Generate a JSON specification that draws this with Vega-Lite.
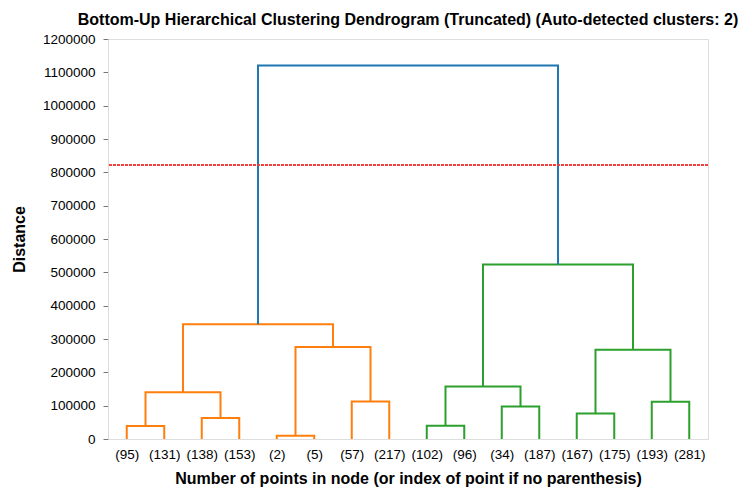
{
  "$schema": "https://vega.github.io/schema/vega-lite/v6.json",
  "autosize": {"type": "none"},
  "width": 600,
  "height": 400,
  "padding": {"left": 108, "top": 39, "right": 43, "bottom": 62},
  "config": {
    "font": "Liberation Sans",
    "view": {"stroke": "#dddddd", "strokeWidth": 1},
    "title": {"fontSize": 16, "fontWeight": "bold", "color": "#000000", "anchor": "middle", "offset": 4}
  },
  "title": "Bottom-Up Hierarchical Clustering Dendrogram (Truncated) (Auto-detected clusters: 2)",
  "data": {
    "values": [
      {"link": 1, "i": 0, "x": 5, "d": 0, "c": "C1"},
      {"link": 1, "i": 1, "x": 5, "d": 39000, "c": "C1"},
      {"link": 1, "i": 2, "x": 15, "d": 39000, "c": "C1"},
      {"link": 1, "i": 3, "x": 15, "d": 0, "c": "C1"},
      {"link": 2, "i": 0, "x": 25, "d": 0, "c": "C1"},
      {"link": 2, "i": 1, "x": 25, "d": 63000, "c": "C1"},
      {"link": 2, "i": 2, "x": 35, "d": 63000, "c": "C1"},
      {"link": 2, "i": 3, "x": 35, "d": 0, "c": "C1"},
      {"link": 3, "i": 0, "x": 10, "d": 39000, "c": "C1"},
      {"link": 3, "i": 1, "x": 10, "d": 140000, "c": "C1"},
      {"link": 3, "i": 2, "x": 30, "d": 140000, "c": "C1"},
      {"link": 3, "i": 3, "x": 30, "d": 63000, "c": "C1"},
      {"link": 4, "i": 0, "x": 45, "d": 0, "c": "C1"},
      {"link": 4, "i": 1, "x": 45, "d": 10000, "c": "C1"},
      {"link": 4, "i": 2, "x": 55, "d": 10000, "c": "C1"},
      {"link": 4, "i": 3, "x": 55, "d": 0, "c": "C1"},
      {"link": 5, "i": 0, "x": 65, "d": 0, "c": "C1"},
      {"link": 5, "i": 1, "x": 65, "d": 112800, "c": "C1"},
      {"link": 5, "i": 2, "x": 75, "d": 112800, "c": "C1"},
      {"link": 5, "i": 3, "x": 75, "d": 0, "c": "C1"},
      {"link": 6, "i": 0, "x": 50, "d": 10000, "c": "C1"},
      {"link": 6, "i": 1, "x": 50, "d": 276000, "c": "C1"},
      {"link": 6, "i": 2, "x": 70, "d": 276000, "c": "C1"},
      {"link": 6, "i": 3, "x": 70, "d": 112800, "c": "C1"},
      {"link": 7, "i": 0, "x": 20, "d": 140000, "c": "C1"},
      {"link": 7, "i": 1, "x": 20, "d": 344000, "c": "C1"},
      {"link": 7, "i": 2, "x": 60, "d": 344000, "c": "C1"},
      {"link": 7, "i": 3, "x": 60, "d": 276000, "c": "C1"},
      {"link": 8, "i": 0, "x": 85, "d": 0, "c": "C2"},
      {"link": 8, "i": 1, "x": 85, "d": 40000, "c": "C2"},
      {"link": 8, "i": 2, "x": 95, "d": 40000, "c": "C2"},
      {"link": 8, "i": 3, "x": 95, "d": 0, "c": "C2"},
      {"link": 9, "i": 0, "x": 105, "d": 0, "c": "C2"},
      {"link": 9, "i": 1, "x": 105, "d": 97800, "c": "C2"},
      {"link": 9, "i": 2, "x": 115, "d": 97800, "c": "C2"},
      {"link": 9, "i": 3, "x": 115, "d": 0, "c": "C2"},
      {"link": 10, "i": 0, "x": 90, "d": 40000, "c": "C2"},
      {"link": 10, "i": 1, "x": 90, "d": 157800, "c": "C2"},
      {"link": 10, "i": 2, "x": 110, "d": 157800, "c": "C2"},
      {"link": 10, "i": 3, "x": 110, "d": 97800, "c": "C2"},
      {"link": 11, "i": 0, "x": 125, "d": 0, "c": "C2"},
      {"link": 11, "i": 1, "x": 125, "d": 76800, "c": "C2"},
      {"link": 11, "i": 2, "x": 135, "d": 76800, "c": "C2"},
      {"link": 11, "i": 3, "x": 135, "d": 0, "c": "C2"},
      {"link": 12, "i": 0, "x": 145, "d": 0, "c": "C2"},
      {"link": 12, "i": 1, "x": 145, "d": 112000, "c": "C2"},
      {"link": 12, "i": 2, "x": 155, "d": 112000, "c": "C2"},
      {"link": 12, "i": 3, "x": 155, "d": 0, "c": "C2"},
      {"link": 13, "i": 0, "x": 130, "d": 76800, "c": "C2"},
      {"link": 13, "i": 1, "x": 130, "d": 268000, "c": "C2"},
      {"link": 13, "i": 2, "x": 150, "d": 268000, "c": "C2"},
      {"link": 13, "i": 3, "x": 150, "d": 112000, "c": "C2"},
      {"link": 14, "i": 0, "x": 100, "d": 157800, "c": "C2"},
      {"link": 14, "i": 1, "x": 100, "d": 523800, "c": "C2"},
      {"link": 14, "i": 2, "x": 140, "d": 523800, "c": "C2"},
      {"link": 14, "i": 3, "x": 140, "d": 268000, "c": "C2"},
      {"link": 15, "i": 0, "x": 40, "d": 344000, "c": "C0"},
      {"link": 15, "i": 1, "x": 40, "d": 1120800, "c": "C0"},
      {"link": 15, "i": 2, "x": 120, "d": 1120800, "c": "C0"},
      {"link": 15, "i": 3, "x": 120, "d": 523800, "c": "C0"}
    ]
  },
  "layer": [
    {
      "mark": {"type": "line", "strokeWidth": 2, "strokeJoin": "miter", "strokeCap": "butt"},
      "encoding": {
        "x": {
          "field": "x", "type": "quantitative",
          "scale": {"domain": [0, 160], "nice": false, "zero": false},
          "axis": {
            "title": "Number of points in node (or index of point if no parenthesis)",
            "titleFontSize": 16, "titleFontWeight": "bold", "titleColor": "#000000", "titlePadding": 10,
            "values": [5, 15, 25, 35, 45, 55, 65, 75, 85, 95, 105, 115, 125, 135, 145, 155],
            "tickCount": 30,
            "labelExpr": "['(95)','(131)','(138)','(153)','(2)','(5)','(57)','(217)','(102)','(96)','(34)','(187)','(167)','(175)','(193)','(281)'][round((datum.value-5)/10)]",
            "labelFontSize": 13.5, "labelColor": "#000000", "labelPadding": 8,
            "labelOverlap": false, "labelFlush": false,
            "ticks": false, "grid": false, "domainColor": "#dddddd"
          }
        },
        "y": {
          "field": "d", "type": "quantitative",
          "scale": {"domain": [0, 1200000], "nice": false},
          "axis": {
            "title": "Distance",
            "titleFontSize": 16, "titleFontWeight": "bold", "titleColor": "#000000", "titlePadding": 15,
            "values": [0, 100000, 200000, 300000, 400000, 500000, 600000, 700000, 800000, 900000, 1000000, 1100000, 1200000],
            "tickCount": 30,
            "format": "d",
            "labelFontSize": 13.5, "labelColor": "#000000", "labelPadding": 8,
            "labelOverlap": false, "labelFlush": false,
            "tickSize": 5, "tickColor": "#777777", "grid": false, "domainColor": "#dddddd"
          }
        },
        "detail": {"field": "link"},
        "order": {"field": "i", "type": "quantitative"},
        "color": {
          "field": "c", "type": "nominal",
          "scale": {"domain": ["C0", "C1", "C2"], "range": ["#1f77b4", "#ff7f0e", "#2ca02c"]},
          "legend": null
        }
      }
    },
    {
      "mark": {"type": "rule", "color": "#ee4444", "strokeWidth": 1, "strokeDash": [2.5, 1.5]},
      "encoding": {"y": {"datum": 821000}}
    }
  ]
}
